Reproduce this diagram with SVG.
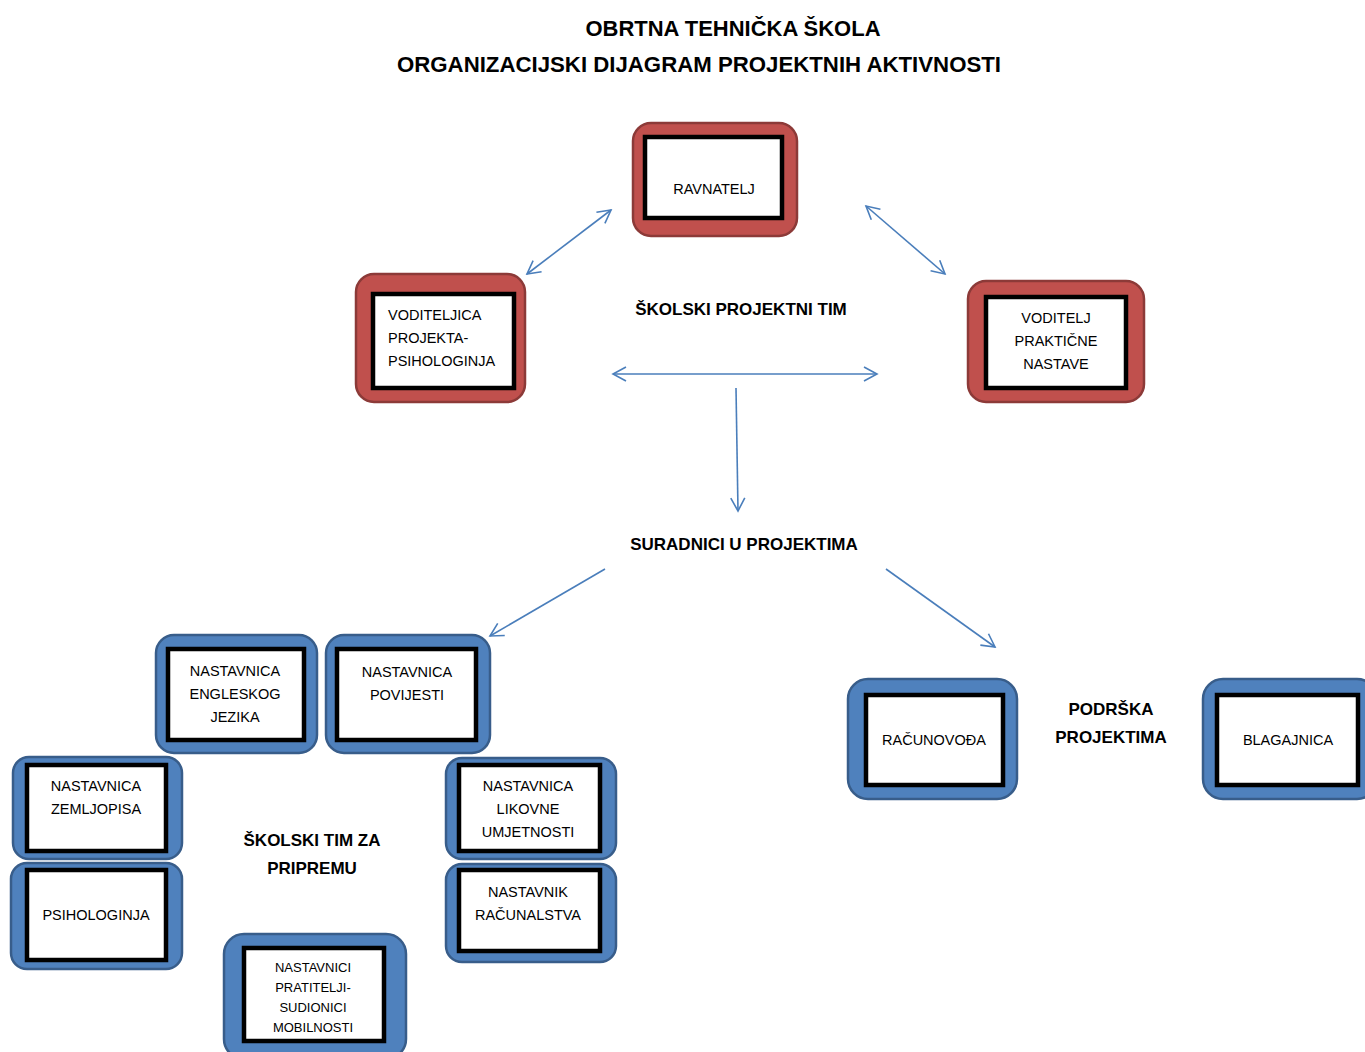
<svg xmlns="http://www.w3.org/2000/svg" width="1365" height="1052" viewBox="0 0 1365 1052">
<style>
.red{fill:#C0504D;stroke:#8C3A38;stroke-width:2.5}
.blue{fill:#4F81BD;stroke:#385D8A;stroke-width:2.5}
.in{fill:#fff;stroke:#000;stroke-width:4.5}
.t{font-family:"Liberation Sans",Arial,sans-serif;font-size:14.5px;fill:#000}
.c{text-anchor:middle}
.b{font-family:"Liberation Sans",Arial,sans-serif;font-weight:bold;font-size:17px;fill:#000;text-anchor:middle}
.h{font-family:"Liberation Sans",Arial,sans-serif;font-weight:bold;font-size:22px;fill:#000;text-anchor:middle}
.ln{fill:none;stroke:#4A7EBB;stroke-width:1.6}
</style>
<defs>
<marker id="ah" markerUnits="userSpaceOnUse" markerWidth="16" markerHeight="18" refX="14" refY="9" orient="auto-start-reverse" viewBox="0 0 16 18">
<path d="M1,2 L14,9 L1,16" fill="none" stroke="#4A7EBB" stroke-width="1.6"/>
</marker>
</defs>
<rect width="1365" height="1052" fill="#fff"/>
<g id="title">
<text class="h" x="733" y="36" textLength="295" lengthAdjust="spacingAndGlyphs">OBRTNA TEHNIČKA ŠKOLA</text>
<text class="h" x="699" y="72" textLength="604" lengthAdjust="spacingAndGlyphs">ORGANIZACIJSKI DIJAGRAM PROJEKTNIH AKTIVNOSTI</text>
</g>
<g id="connectors">
<line class="ln" x1="527" y1="274" x2="611" y2="210" marker-start="url(#ah)" marker-end="url(#ah)"/>
<line class="ln" x1="866" y1="206" x2="945" y2="274" marker-start="url(#ah)" marker-end="url(#ah)"/>
<line class="ln" x1="613" y1="374" x2="877" y2="374" marker-start="url(#ah)" marker-end="url(#ah)"/>
<line class="ln" x1="736" y1="388" x2="738" y2="511" marker-end="url(#ah)"/>
<line class="ln" x1="605" y1="569" x2="490" y2="636" marker-end="url(#ah)"/>
<line class="ln" x1="886" y1="569" x2="995" y2="647" marker-end="url(#ah)"/>
</g>
<g id="ravnatelj">
<rect class="red" x="633" y="123" width="164" height="113" rx="18"/>
<rect class="in" x="645" y="137" width="137" height="81"/>
<text class="t c" x="714" y="194">RAVNATELJ</text>
</g>
<g id="voditeljica">
<rect class="red" x="356" y="274" width="169" height="128" rx="18"/>
<rect class="in" x="373" y="294" width="141" height="94"/>
<text class="t" x="388" y="320">VODITELJICA</text>
<text class="t" x="388" y="343">PROJEKTA-</text>
<text class="t" x="388" y="366">PSIHOLOGINJA</text>
</g>
<g id="voditelj">
<rect class="red" x="968" y="281" width="176" height="121" rx="18"/>
<rect class="in" x="986" y="297" width="140" height="91"/>
<text class="t c" x="1056" y="323">VODITELJ</text>
<text class="t c" x="1056" y="346">PRAKTIČNE</text>
<text class="t c" x="1056" y="369">NASTAVE</text>
</g>
<g id="skolski-projektni-tim">
<text class="b" x="741" y="315">ŠKOLSKI PROJEKTNI TIM</text>
</g>
<g id="suradnici">
<text class="b" x="744" y="550">SURADNICI U PROJEKTIMA</text>
</g>
<g id="engleski">
<rect class="blue" x="156" y="635" width="161" height="118" rx="18"/>
<rect class="in" x="168" y="649" width="136" height="91"/>
<text class="t c" x="235" y="676">NASTAVNICA</text>
<text class="t c" x="235" y="699">ENGLESKOG</text>
<text class="t c" x="235" y="722">JEZIKA</text>
</g>
<g id="povijest">
<rect class="blue" x="326" y="635" width="164" height="118" rx="18"/>
<rect class="in" x="337" y="649" width="139" height="91"/>
<text class="t c" x="407" y="677">NASTAVNICA</text>
<text class="t c" x="407" y="700">POVIJESTI</text>
</g>
<g id="zemljopis">
<rect class="blue" x="13" y="757" width="169" height="102" rx="16"/>
<rect class="in" x="27" y="765" width="139" height="86"/>
<text class="t c" x="96" y="791">NASTAVNICA</text>
<text class="t c" x="96" y="814">ZEMLJOPISA</text>
</g>
<g id="psihologinja">
<rect class="blue" x="11" y="863" width="171" height="106" rx="16"/>
<rect class="in" x="27" y="870" width="139" height="90"/>
<text class="t c" x="96" y="920">PSIHOLOGINJA</text>
</g>
<g id="skolski-tim-za-pripremu">
<text class="b" x="312" y="846">ŠKOLSKI TIM ZA</text>
<text class="b" x="312" y="874">PRIPREMU</text>
</g>
<g id="likovna">
<rect class="blue" x="446" y="758" width="170" height="101" rx="16"/>
<rect class="in" x="459" y="765" width="141" height="86"/>
<text class="t c" x="528" y="791">NASTAVNICA</text>
<text class="t c" x="528" y="814">LIKOVNE</text>
<text class="t c" x="528" y="837">UMJETNOSTI</text>
</g>
<g id="racunalstvo">
<rect class="blue" x="446" y="864" width="170" height="98" rx="16"/>
<rect class="in" x="459" y="870" width="141" height="81"/>
<text class="t c" x="528" y="897">NASTAVNIK</text>
<text class="t c" x="528" y="920">RAČUNALSTVA</text>
</g>
<g id="pratitelji">
<rect class="blue" x="224" y="934" width="182" height="125" rx="20"/>
<rect class="in" x="244" y="948" width="140" height="93"/>
<text class="t c" x="313" y="972" style="font-size:13px">NASTAVNICI</text>
<text class="t c" x="313" y="992" style="font-size:13px">PRATITELJI-</text>
<text class="t c" x="313" y="1012" style="font-size:13px">SUDIONICI</text>
<text class="t c" x="313" y="1032" style="font-size:13px">MOBILNOSTI</text>
</g>
<g id="racunovoda">
<rect class="blue" x="848" y="679" width="169" height="120" rx="20"/>
<rect class="in" x="866" y="695" width="137" height="90"/>
<text class="t c" x="934" y="745">RAČUNOVOĐA</text>
</g>
<g id="podrska">
<text class="b" x="1111" y="715">PODRŠKA</text>
<text class="b" x="1111" y="743">PROJEKTIMA</text>
</g>
<g id="blagajnica">
<rect class="blue" x="1203" y="679" width="174" height="120" rx="20"/>
<rect class="in" x="1217" y="695" width="141" height="90"/>
<text class="t c" x="1288" y="745">BLAGAJNICA</text>
</g>
</svg>
